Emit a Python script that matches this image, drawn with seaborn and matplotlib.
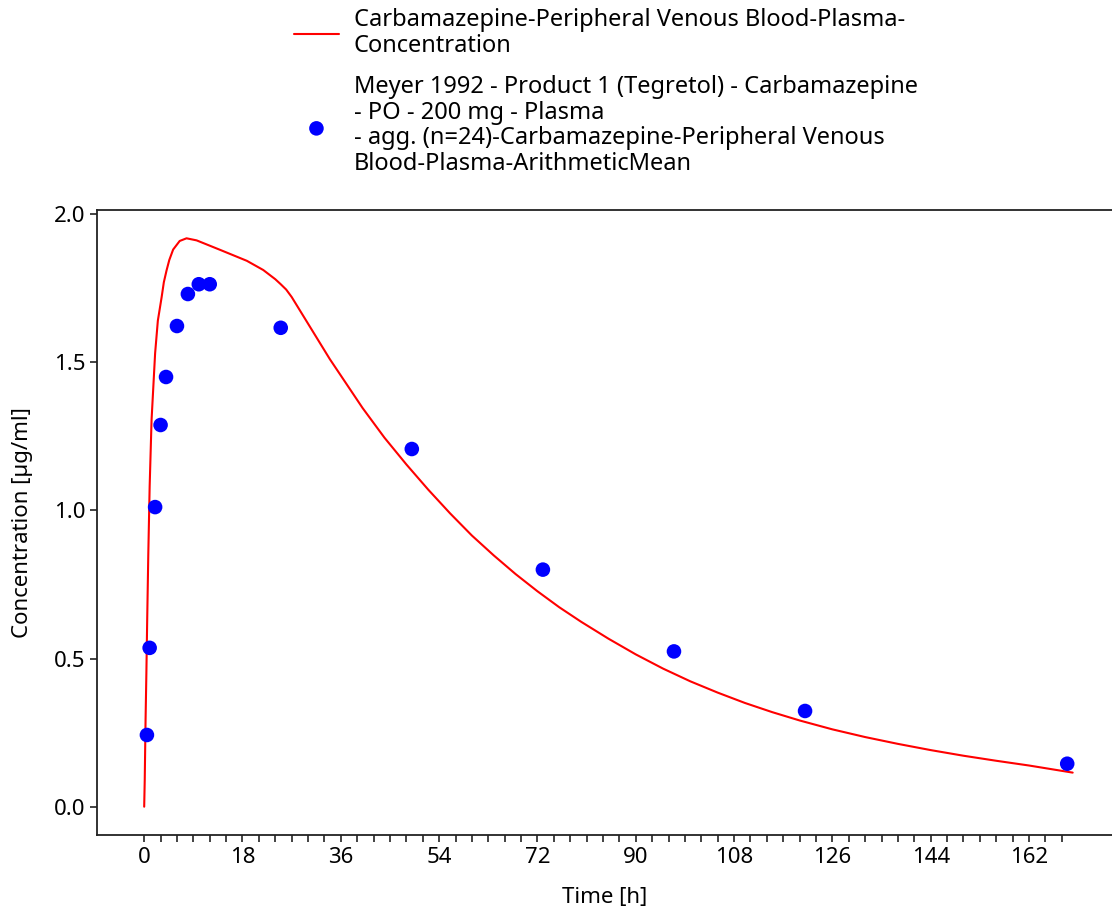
import numpy as np
import pandas as pd
import matplotlib
matplotlib.use('Agg')
import matplotlib.pyplot as plt
from matplotlib.ticker import FixedLocator
import seaborn as sns

# simulated plasma concentration
sim_time = [0, 0.1, 0.25, 0.4, 0.55, 0.75, 1.0, 1.35, 2, 2.5, 3.2, 3.6, 4.1, 4.6, 5.3,
            6.5, 7.75, 9.6, 13.9, 18.8, 21.8, 24, 25, 26, 27, 28, 30, 32, 34, 36, 40, 44,
            48, 52, 56, 60, 64, 68, 72, 76, 80, 85, 90, 95, 100, 105, 110, 115, 120, 126,
            132, 138, 144, 150, 156, 162, 170]
sim_conc = [0, 0.09, 0.29, 0.45, 0.63, 0.85, 1.08, 1.305, 1.53, 1.64, 1.72, 1.77, 1.81,
            1.845, 1.88, 1.909, 1.918, 1.911, 1.879, 1.842, 1.811, 1.78, 1.763, 1.745,
            1.72, 1.69, 1.63, 1.57, 1.51, 1.455, 1.345, 1.245, 1.155, 1.07, 0.99, 0.915,
            0.848, 0.785, 0.727, 0.673, 0.624, 0.567, 0.514, 0.466, 0.423, 0.385, 0.350,
            0.319, 0.291, 0.261, 0.235, 0.212, 0.191, 0.172, 0.155, 0.139, 0.115]

# observed data, Meyer 1992
obs_time = [0.5, 1, 2, 3, 4, 6, 8, 10, 12, 25, 49, 73, 97, 121, 169]
obs_conc = [0.242, 0.536, 1.011, 1.288, 1.45, 1.622, 1.73, 1.763, 1.763, 1.616, 1.207,
            0.800, 0.524, 0.323, 0.145]

sim_label = 'Carbamazepine-Peripheral Venous Blood-Plasma-\nConcentration'
obs_label = ('Meyer 1992 - Product 1 (Tegretol) - Carbamazepine\n- PO - 200 mg - Plasma\n'
             '- agg. (n=24)-Carbamazepine-Peripheral Venous\nBlood-Plasma-ArithmeticMean')

sim = pd.DataFrame({'Time': sim_time, 'Conc': sim_conc})
obs = pd.DataFrame({'Time': obs_time, 'Conc': obs_conc})

sns.set_style('white')
plt.rcParams['font.family'] = ['Noto Sans', 'DejaVu Sans']
plt.rcParams['text.color'] = 'black'
plt.rcParams['axes.labelcolor'] = 'black'

fig = plt.figure(figsize=(11.12, 9.17), dpi=100)
ax = fig.add_axes([97/1112, 1-835/917, 1-97/1112, (835-210)/917])

sns.lineplot(data=sim, x='Time', y='Conc', color='red', linewidth=1.5, ax=ax, label=sim_label)
sns.scatterplot(data=obs, x='Time', y='Conc', color='blue', s=110, edgecolor='none',
                ax=ax, label=obs_label, zorder=3)

ax.set_xlim(-8.64, 177.2)
ax.set_ylim(-0.0955, 2.0135)
ax.set_xticks(np.arange(0, 163, 18))
ax.xaxis.set_minor_locator(FixedLocator(np.arange(0, 169, 3)))
ax.set_yticks([0, 0.5, 1.0, 1.5, 2.0])
ax.set_yticklabels(['0.0', '0.5', '1.0', '1.5', '2.0'])
ax.tick_params(axis='both', which='both', direction='out', length=5, width=1.2,
               colors='#222222', labelsize=16, labelcolor='black')
ax.tick_params(axis='x', which='both', bottom=True)
ax.tick_params(axis='y', left=True)

for side in ['left', 'bottom', 'top']:
    ax.spines[side].set_color('#222222')
    ax.spines[side].set_linewidth(1.3)
ax.spines['right'].set_visible(False)

ax.set_xlabel('Time [h]', fontsize=16, labelpad=14)
ax.set_ylabel('Concentration [µg/ml]', fontsize=16, labelpad=15)

handles, labels = ax.get_legend_handles_labels()
ax.get_legend().remove()
leg = fig.legend(handles, labels, loc='center', bbox_to_anchor=(606/1112, 1-92/917),
                 frameon=False, fontsize=17, handlelength=1.9, handletextpad=0.64,
                 labelspacing=0.75)
for t in leg.get_texts():
    t.set_linespacing(1.08)

fig.savefig('out.png', dpi=100)
